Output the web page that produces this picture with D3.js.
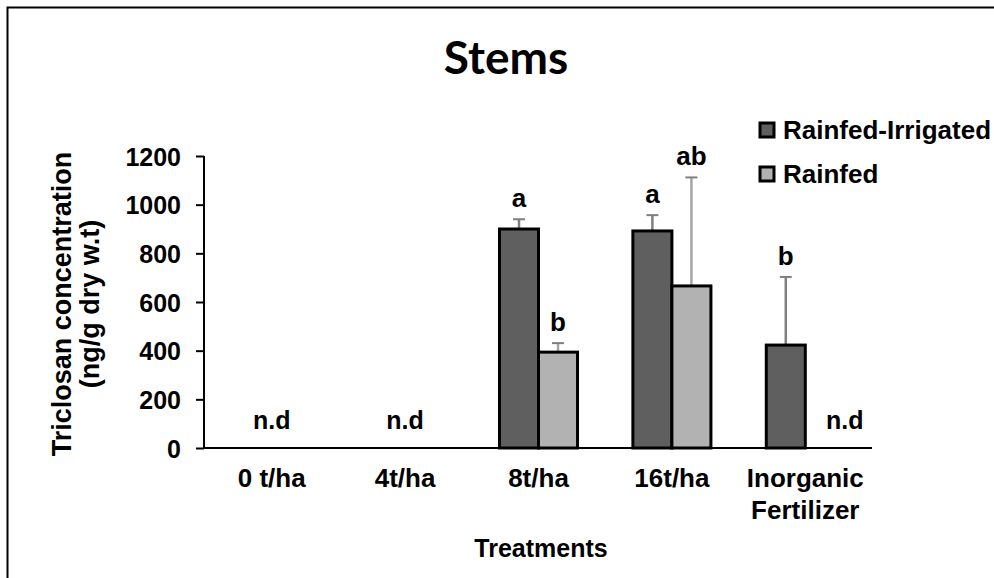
<!DOCTYPE html>
<html><head><meta charset="utf-8">
<script src="https://cdn.jsdelivr.net/npm/d3@7"></script>
<style>body{margin:0;background:#fff}svg text{font-family:"Liberation Sans",Arial,sans-serif;font-weight:bold;fill:#000}</style>
</head><body>
<svg id="c" width="994" height="578"></svg>
<script>
const categories = ["0 t/ha", "4t/ha", "8t/ha", "16t/ha", "Inorganic Fertilizer"];
const seriesNames = ["Rainfed-Irrigated", "Rainfed"];
const irrigated = [0, 0, 900, 892, 423];
const irrigatedErr = [0, 0, 40, 65, 280];
const rainfed = [0, 0, 394, 666, 0];
const rainfedErr = [0, 0, 37, 446, 0];
const irrigatedLetters = ["", "", "a", "a", "b"];
const rainfedLetters = ["", "", "b", "ab", ""];
const groupNotes = ["n.d", "n.d", "", "", ""];
const rainfedNotes = ["", "", "", "", "n.d"];
const yTicks = [0, 200, 400, 600, 800, 1000, 1200];

const svg = d3.select("#c");
svg.append("rect").attr("x", 7.5).attr("y", 7.5).attr("width", 1100).attr("height", 1100)
  .attr("fill", "none").attr("stroke", "#000").attr("stroke-width", 2);

const x = d3.scaleBand().domain(categories).range([205, 872]).paddingInner(0.415).paddingOuter(0.2075);
const xs = d3.scaleBand().domain(seriesNames).range([0, x.bandwidth()]);
const y = d3.scaleLinear().domain([0, 1200]).range([448, 156]);
const fills = ["#5f5f5f", "#b2b2b2"];
const errCol = ["#7f7f7f", "#a6a6a6"];

// y axis
const ya = svg.append("g").attr("transform", "translate(204,0)")
  .call(d3.axisLeft(y).tickValues(yTicks).tickSize(8).tickPadding(15).tickFormat(d3.format("d")));
ya.select(".domain").attr("stroke-width", 2).attr("d", "M0," + y(1200) + "H0V" + y(0));
ya.selectAll(".tick line").attr("stroke-width", 2);
ya.selectAll("text").style("font-size", "25px").attr("dy", "0.36em");

const series = [
  {name: seriesNames[0], vals: irrigated, err: irrigatedErr, letters: irrigatedLetters, notes: categories.map(() => "")},
  {name: seriesNames[1], vals: rainfed, err: rainfedErr, letters: rainfedLetters, notes: rainfedNotes}
];

series.forEach((s, si) => {
  const g = svg.append("g");
  categories.forEach((c, i) => {
    const bx = x(c) + xs(s.name);
    const bw = xs.bandwidth();
    const v = s.vals[i];
    if (v > 0) {
      const top = y(v + s.err[i]);
      g.append("line").attr("x1", bx + bw / 2).attr("x2", bx + bw / 2)
        .attr("y1", y(v)).attr("y2", top).attr("stroke", errCol[si]).attr("stroke-width", 2.5);
      g.append("line").attr("x1", bx + bw / 2 - 6).attr("x2", bx + bw / 2 + 6)
        .attr("y1", top).attr("y2", top).attr("stroke", "#7f7f7f").attr("stroke-width", 2);
      g.append("rect").attr("x", bx).attr("y", y(v)).attr("width", bw).attr("height", y(0) - y(v))
        .attr("fill", fills[si]).attr("stroke", "#000").attr("stroke-width", 3);
      if (s.letters[i]) {
        g.append("text").attr("x", bx + bw / 2).attr("y", top - 12)
          .attr("text-anchor", "middle").style("font-size", "26px").text(s.letters[i]);
      }
    }
    if (s.notes[i]) {
      g.append("text").attr("x", bx + bw / 2 + 20).attr("y", y(0) - 19)
        .attr("text-anchor", "middle").style("font-size", "25px").text(s.notes[i]);
    }
  });
});
categories.forEach((c, i) => {
  if (groupNotes[i]) {
    svg.append("text").attr("x", x(c) + x.bandwidth() / 2).attr("y", y(0) - 19)
      .attr("text-anchor", "middle").style("font-size", "25px").text(groupNotes[i]);
  }
});

// x axis line
svg.append("line").attr("x1", 204).attr("x2", 872).attr("y1", y(0)).attr("y2", y(0))
  .attr("stroke", "#000").attr("stroke-width", 2);

// x labels
categories.forEach(c => {
  const parts = c === "Inorganic Fertilizer" ? ["Inorganic", "Fertilizer"] : [c];
  const t = svg.append("text").attr("x", x(c) + x.bandwidth() / 2).attr("y", 487)
    .attr("text-anchor", "middle").style("font-size", "26px");
  parts.forEach((p, k) => t.append("tspan").attr("x", x(c) + x.bandwidth() / 2).attr("dy", k ? 32 : 0).text(p));
});

svg.append("text").attr("x", 541).attr("y", 557).attr("text-anchor", "middle").style("font-size", "25px").text("Treatments");

// y title
const yt = svg.append("text").attr("transform", "translate(71,304) rotate(-90)").attr("text-anchor", "middle").style("font-size", "27px");
yt.append("tspan").attr("x", 0).attr("dy", 0).text("Triclosan concentration");
yt.append("tspan").attr("x", 0).attr("dy", 28).text("(ng/g dry w.t)");

// title
svg.append("text").attr("x", 506).attr("y", 74).attr("text-anchor", "middle")
  .style("font-family", "Lato, 'Open Sans', sans-serif").style("font-size", "46px").text("Stems");

// legend
const lg = svg.append("g");
const legY = [130, 174];
seriesNames.forEach((n, i) => {
  lg.append("rect").attr("x", 760).attr("y", legY[i] - 7).attr("width", 14).attr("height", 14)
    .attr("fill", fills[i]).attr("stroke", "#000").attr("stroke-width", 3);
  lg.append("text").attr("x", 783).attr("y", legY[i]).attr("dy", "0.36em").style("font-size", "26px").text(n);
});
</script>
</body></html>
